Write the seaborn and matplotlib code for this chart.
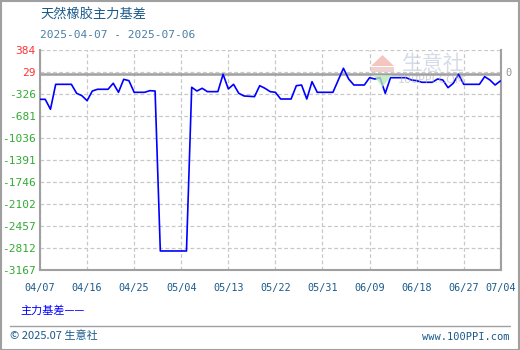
import matplotlib
matplotlib.use("Agg")
import matplotlib.pyplot as plt
from matplotlib.patches import Rectangle, Polygon
import pandas as pd
import seaborn as sns

# Main-contract basis for natural rubber, 2025-04-07 .. 2025-07-04
dates = [
    "2025-04-07", "2025-04-08", "2025-04-09", "2025-04-10", "2025-04-13", "2025-04-14",
    "2025-04-15", "2025-04-16", "2025-04-17", "2025-04-18", "2025-04-20", "2025-04-21",
    "2025-04-22", "2025-04-23", "2025-04-24", "2025-04-25", "2025-04-27", "2025-04-28",
    "2025-04-29", "2025-04-30", "2025-05-05", "2025-05-06", "2025-05-07", "2025-05-08",
    "2025-05-09", "2025-05-11", "2025-05-12", "2025-05-13", "2025-05-14", "2025-05-15",
    "2025-05-16", "2025-05-18", "2025-05-19", "2025-05-20", "2025-05-21", "2025-05-22",
    "2025-05-23", "2025-05-25", "2025-05-26", "2025-05-27", "2025-05-28", "2025-05-29",
    "2025-05-30", "2025-06-02", "2025-06-04", "2025-06-05", "2025-06-06", "2025-06-08",
    "2025-06-09", "2025-06-10", "2025-06-11", "2025-06-12", "2025-06-13", "2025-06-16",
    "2025-06-17", "2025-06-18", "2025-06-19", "2025-06-21", "2025-06-22", "2025-06-23",
    "2025-06-24", "2025-06-25", "2025-06-26", "2025-06-27", "2025-06-30", "2025-07-01",
    "2025-07-02", "2025-07-03", "2025-07-04",
]
basis = [
    -412, -412, -573, -170, -170, -315,
    -353, -434, -278, -250, -250, -153,
    -299, -89, -111, -299, -299, -272,
    -278, -2860, -2860, -218, -278, -234,
    -288, -288, -8, -245, -170, -315,
    -358, -369, -192, -234, -288, -299,
    -407, -407, -192, -181, -407, -127,
    -299, -299, 89, -84, -181, -181,
    -63, -84, -63, -315, -63, -63,
    -100, -111, -137, -137, -84, -100,
    -224, -153, -8, -170, -170, -46,
    -100, -181, -116,
]

y_ticks = [384, 29, -326, -681, -1036, -1391, -1746, -2102, -2457, -2812, -3167]
x_tick_dates = ["2025-04-07", "2025-04-16", "2025-04-25", "2025-05-04", "2025-05-13",
                "2025-05-22", "2025-05-31", "2025-06-09", "2025-06-18", "2025-06-27",
                "2025-07-04"]
x_tick_labels = ["04/07", "04/16", "04/25", "05/04", "05/13", "05/22", "05/31",
                 "06/09", "06/18", "06/27", "07/04"]

title = "天然橡胶主力基差"
subtitle = "2025-04-07 - 2025-07-06"
series_name = "主力基差"

sns.set_theme(style="white")
plt.rcParams["font.family"] = ["Noto Sans CJK SC", "DejaVu Sans"]

df = pd.DataFrame({"date": pd.to_datetime(dates), "basis": basis})

W, H = 520, 350
fig = plt.figure(figsize=(W / 100, H / 100), dpi=100)
fig.patch.set_facecolor("white")

def fx(px):
    return px / W

def fy(py):
    return 1 - py / H

ax = fig.add_axes([fx(40), fy(270), fx(501) - fx(40), fy(50) - fy(270)])
ax.set_facecolor("none")

# watermark logo (drawn behind the plot)
fig.patches.append(Polygon([(fx(371), fy(66)), (fx(394), fy(66)), (fx(382.5), fy(55))],
                           closed=True, transform=fig.transFigure, facecolor="#f2b8b0",
                           edgecolor="none", alpha=0.8, zorder=0))
fig.patches.append(Rectangle((fx(371), fy(72)), fx(23), fy(67) - fy(72),
                             transform=fig.transFigure, facecolor="#e8c0bc",
                             edgecolor="none", alpha=0.7, zorder=0))
fig.patches.append(Polygon([(fx(373), fy(75)), (fx(392), fy(75)), (fx(382.5), fy(87))],
                           closed=True, transform=fig.transFigure, facecolor="#b8e6b8",
                           edgecolor="none", alpha=0.8, zorder=0))
fig.text(fx(402), fy(64), "生意社", fontsize=15, color="#b9c6d9", alpha=0.6,
         va="center", ha="left", zorder=0)
fig.text(fx(398), fy(80), "100PPI.COM", fontsize=8, color="#b0b0b0", alpha=0.6,
         va="center", ha="left", family="DejaVu Sans", zorder=0)

sns.lineplot(data=df, x="date", y="basis", ax=ax, color="#0000ff", linewidth=1.2,
             zorder=3)

x0 = pd.Timestamp("2025-04-07")
x1 = pd.Timestamp("2025-07-04") + pd.Timedelta(hours=3)
ax.set_xlim(x0, x1)
ax.set_ylim(y_ticks[-1], y_ticks[0])

ax.set_yticks(y_ticks)
ax.set_yticklabels([str(v) for v in y_ticks], family="DejaVu Sans Mono", fontsize=8)
for lbl, v in zip(ax.get_yticklabels(), y_ticks):
    lbl.set_color("#ff3333" if v > 0 else "#33aa33")

ax.set_xticks(pd.to_datetime(x_tick_dates))
ax.set_xticklabels(x_tick_labels, family="DejaVu Sans Mono", fontsize=7.3,
                   color="#1a5a8a")
ax.tick_params(axis="both", length=0)
ax.tick_params(axis="y", pad=3)
ax.tick_params(axis="x", pad=9)
ax.set_xlabel("")
ax.set_ylabel("")

# dashed grid
ax.grid(True, color="#c8c8c8", linestyle=(0, (3, 2)), linewidth=0.9)
ax.set_axisbelow(True)

# zero reference line
ax.axhline(0, color="#a0a0a0", linewidth=1.8, zorder=2)

for side in ["left", "bottom", "right"]:
    ax.spines[side].set_color("#a0a0a0")
    ax.spines[side].set_linewidth(1.5)
ax.spines["top"].set_visible(False)

# zero label on the right
fig.text(fx(505), fy(73), "0", fontsize=7.5, color="#909090", va="center",
         ha="left", family="DejaVu Sans Mono")

# titles
fig.text(fx(40), fy(15), title, fontsize=9.5, color="#1a5a8a", va="center", ha="left")
fig.text(fx(40), fy(35), subtitle, fontsize=8, color="#4a7fa5", va="center",
         ha="left", family="DejaVu Sans Mono")

# legend line
fig.text(fx(20), fy(311), series_name + "——", fontsize=8, color="#0000ff",
         va="center", ha="left")

# footer
fig.add_artist(plt.Line2D([fx(10), fx(510)], [fy(326), fy(326)], color="#a0a0a0",
                          linewidth=1, transform=fig.transFigure))
fig.text(fx(10), fy(336), "© 2025.07 生意社", fontsize=8, color="#1a5a8a",
         va="center", ha="left")
fig.text(fx(509), fy(337), "www.100PPI.com", fontsize=7.5, color="#1a5a8a",
         va="center", ha="right", family="DejaVu Sans Mono")

# outer frame
fig.patches.append(Rectangle((0.001, 0.001), 0.998, 0.997, transform=fig.transFigure,
                             fill=False, edgecolor="#a0a0a0", linewidth=1.5))

fig.savefig("out.png", dpi=100, facecolor="white")
